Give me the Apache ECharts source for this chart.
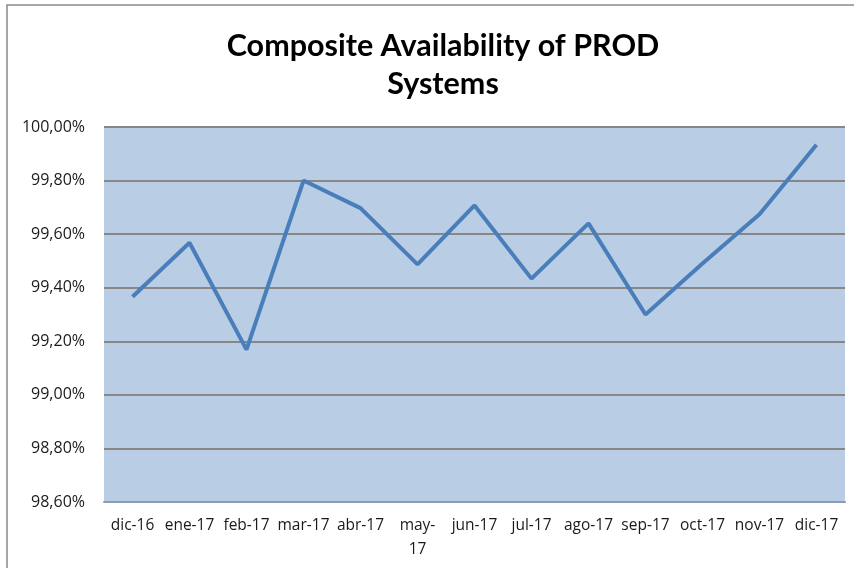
<!DOCTYPE html>
<html>
<head>
<meta charset="utf-8">
<script src="https://cdn.jsdelivr.net/npm/echarts@6/dist/echarts.min.js"></script>
<style>
html,body{margin:0;padding:0;background:#fff;}
#chart{width:854px;height:568px;}
</style>
</head>
<body>
<div id="chart"></div>
<script>
var categories = ['dic-16','ene-17','feb-17','mar-17','abr-17','may-17','jun-17','jul-17','ago-17','sep-17','oct-17','nov-17','dic-17'];
var availability = [99.366, 99.568, 99.169, 99.80, 99.697, 99.487, 99.707, 99.434, 99.64, 99.30, 99.49, 99.674, 99.934];
var yTicks = [98.6, 98.8, 99.0, 99.2, 99.4, 99.6, 99.8, 100.0];

var chart = echarts.init(document.getElementById('chart'));
chart.setOption({
  animation: false,
  backgroundColor: '#ffffff',
  title: {
    text: 'Composite Availability of PROD\nSystems',
    left: 438,
    textAlign: 'center',
    top: 22,
    textStyle: { fontFamily: 'Lato', fontWeight: 'bold', fontSize: 30.5, color: '#000', lineHeight: 38 }
  },
  graphic: [{
    type: 'rect',
    shape: { x: 7, y: 5, width: 900, height: 620 },
    style: { fill: 'none', stroke: '#8a8a8a', lineWidth: 1.5 },
    silent: true, z: -1
  }],
  grid: {
    left: 104, right: 9, top: 127, bottom: 66,
    show: true, backgroundColor: '#B9CDE5', borderWidth: 0
  },
  xAxis: {
    type: 'category',
    data: categories,
    boundaryGap: true,
    axisLine: { show: true, lineStyle: { color: '#8C9CB2', width: 2 } },
    axisTick: { show: false },
    axisLabel: {
      interval: 0, margin: 12,
      fontFamily: 'Open Sans', fontSize: 15.5, color: '#1a1a1a', lineHeight: 24,
      formatter: function (v) { return v === 'may-17' ? 'may-\n17' : v; }
    }
  },
  yAxis: {
    type: 'value',
    min: yTicks[0], max: yTicks[yTicks.length - 1], interval: 0.2,
    axisLine: { show: false },
    axisTick: { show: false },
    splitLine: { show: true, lineStyle: { color: '#878787', width: 2 } },
    axisLabel: {
      margin: 19,
      fontFamily: 'Open Sans', fontSize: 16, color: '#1a1a1a',
      formatter: function (v) { return v.toFixed(2).replace('.', ',') + '%'; }
    }
  },
  series: [{
    type: 'line',
    data: availability,
    symbol: 'none',
    lineStyle: { color: '#4A7EBB', width: 4 },
    itemStyle: { color: '#4A7EBB' }
  }]
});
</script>
</body>
</html>
